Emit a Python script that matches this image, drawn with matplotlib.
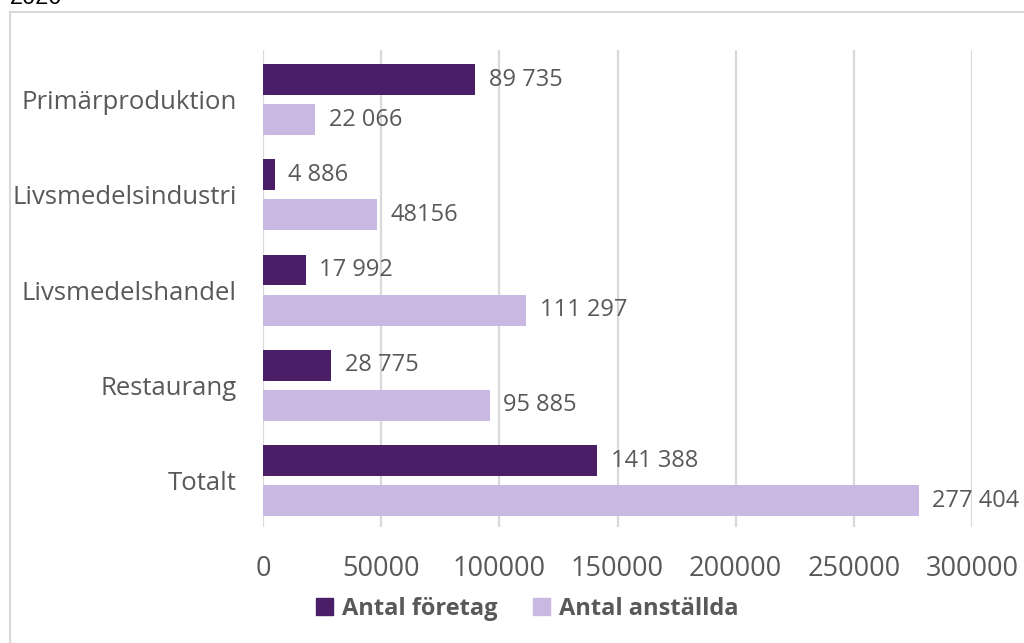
import matplotlib.pyplot as plt
from matplotlib.patches import Patch, Rectangle
import numpy as np

# Livsmedelskedjan 2020: antal företag och anställda per del
kategorier = ["Primärproduktion", "Livsmedelsindustri", "Livsmedelshandel",
              "Restaurang", "Totalt"]
antal_foretag = [89735, 4886, 17992, 28775, 141388]
antal_anstallda = [22066, 48156, 111297, 95885, 277404]
etiketter_foretag = ["89 735", "4 886", "17 992", "28 775", "141 388"]
etiketter_anstallda = ["22 066", "48156", "111 297", "95 885", "277 404"]
xticks = [0, 50000, 100000, 150000, 200000, 250000, 300000]

mork = "#4b1f68"
ljus = "#c9b8e1"
grå_text = "#595959"

plt.rcParams["font.family"] = ["Open Sans", "DejaVu Sans"]

fig = plt.figure(figsize=(10.24, 6.43), dpi=100)
ax = fig.add_axes([263 / 1024, 1 - 527 / 643, 709 / 1024, (527 - 50) / 643])

y = np.arange(len(kategorier))
h = 0.325
off = 0.21
ax.barh(y - off, antal_foretag, height=h, color=mork, zorder=3)
ax.barh(y + off, antal_anstallda, height=h, color=ljus, zorder=3)

for yi, v, t in zip(y, antal_foretag, etiketter_foretag):
    ax.annotate(t, (v, yi - off), xytext=(10, 0), textcoords="offset points",
                va="center", ha="left", fontsize=17, color=grå_text)
for yi, v, t in zip(y, antal_anstallda, etiketter_anstallda):
    ax.annotate(t, (v, yi + off), xytext=(10, 0), textcoords="offset points",
                va="center", ha="left", fontsize=17, color=grå_text)

ax.set_xlim(0, 300000)
ax.set_ylim(4.488, -0.52)
ax.set_xticks(xticks)
ax.set_xticklabels([str(t) for t in xticks])
ax.set_yticks(y)
ax.set_yticklabels(kategorier)
ax.tick_params(axis="x", length=0, pad=20, labelsize=19.5, labelcolor=grå_text)
ax.tick_params(axis="y", length=0, pad=19, labelsize=18.5, labelcolor=grå_text)
ax.grid(axis="x", color="#d9d9d9", linewidth=1.6, zorder=0)
for s in ax.spines.values():
    s.set_visible(False)

# ram runt diagrammet och avklippt årtal överst
fig.patches.append(Rectangle((10 / 1024, -0.1), 1.1, 1 - 12 / 643 + 0.1,
                             transform=fig.transFigure, fill=False,
                             edgecolor="#d9d9d9", linewidth=1.5))
fig.text(10 / 1024, 1 - 4.5 / 643, "2020", family="Liberation Sans",
         fontsize=17, color="black", va="baseline", ha="left")

handles = [Patch(color=mork, label="Antal företag"),
           Patch(color=ljus, label="Antal anställda")]
fig.legend(handles=handles, loc="center", bbox_to_anchor=(0.515, 1 - 609 / 643),
           ncol=2, frameon=False, handlelength=0.7, handleheight=0.7,
           handletextpad=0.4, columnspacing=1.5,
           prop={"weight": "bold", "size": 17}, labelcolor=grå_text)

fig.savefig("out.png", dpi=100)
